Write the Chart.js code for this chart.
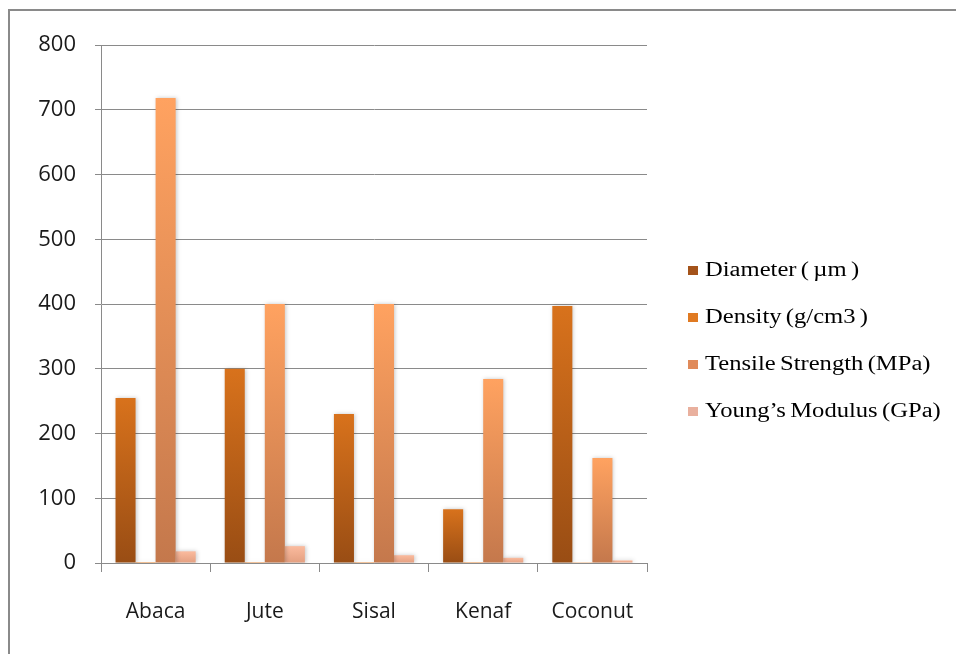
<!DOCTYPE html>
<html>
<head>
<meta charset="utf-8">
<script src="https://cdn.jsdelivr.net/npm/chart.js@4.4.1/dist/chart.umd.min.js"></script>
<style>
  html, body { margin: 0; padding: 0; background: #ffffff; }
  #wrap { position: relative; width: 956px; height: 654px; overflow: hidden; }
  #frame { position: absolute; left: 8px; top: 9px; width: 960px; height: 660px;
           border-top: 2px solid #8a8a8a; border-left: 2px solid #8a8a8a; box-sizing: border-box; }
  canvas { position: absolute; left: 0; top: 0; }
  #legend { position: absolute; left: 688px; top: 257px; font-family: "Liberation Serif", "Times New Roman", serif;
            font-size: 20px; color: #000; }
  .item { position: absolute; left: 0; height: 24px; white-space: nowrap; }
  .swatch { position: absolute; left: 0; top: 9px; width: 10px; height: 9px; }
  .label { position: absolute; left: 17px; top: 0; line-height: 24px; transform: scaleX(1.23); transform-origin: left center; word-spacing: -1.5px; }
</style>
</head>
<body>
<div id="wrap">
  <canvas id="chart" width="956" height="654"></canvas>
  <div id="frame"></div>
  <div id="legend"></div>
</div>
<script>
// Fibre types along the x axis
const categories = ["Abaca", "Jute", "Sisal", "Kenaf", "Coconut"];

// Properties of each fibre
const diameter = [255, 300, 230, 83, 397];       // µm
const density = [1.5, 1.46, 1.45, 1.45, 1.2];    // g/cm3
const tensileStrength = [718, 400, 400, 284, 162]; // MPa
const youngsModulus = [18, 26, 12, 8, 4];        // GPa

const seriesNames = ["Diameter ( µm )", "Density (g/cm3 )", "Tensile Strength (MPa)", "Young’s Modulus (GPa)"];

// Value axis ticks
const yTicks = [0, 100, 200, 300, 400, 500, 600, 700, 800];

// Top / bottom shade of each series' bars, and its legend swatch
const shades = [
  { top: "#d8721c", bottom: "#994d14", swatch: "#a4531a" },
  { top: "#e67d22", bottom: "#b35d18", swatch: "#e07a22" },
  { top: "#ffa260", bottom: "#c4784c", swatch: "#e08a5a" },
  { top: "#fbbb9e", bottom: "#e39f80", swatch: "#e9b09e" }
];

function gradientFill(i) {
  return (ctx) => {
    const chart = ctx.chart;
    if (ctx.type !== "data" || !chart.chartArea || !chart.scales.y) return shades[i].swatch;
    const y = chart.scales.y;
    const top = y.getPixelForValue(ctx.raw);
    const base = y.getPixelForValue(0);
    if (!isFinite(top) || base - top < 1) return shades[i].top;
    const g = chart.ctx.createLinearGradient(0, top, 0, base);
    g.addColorStop(0, shades[i].top);
    g.addColorStop(1, shades[i].bottom);
    return g;
  };
}

const seriesValues = [diameter, density, tensileStrength, youngsModulus];

// Soft drop shadow behind the bars
const barShadow = {
  id: "barShadow",
  beforeDatasetsDraw(chart) {
    const c = chart.ctx;
    c.save();
    c.shadowColor = "rgba(0,0,0,0.22)";
    c.shadowBlur = 4;
    c.shadowOffsetX = 1;
    c.shadowOffsetY = 0;
  },
  afterDatasetsDraw(chart) {
    chart.ctx.restore();
  }
};

const chart = new Chart(document.getElementById("chart"), {
  type: "bar",
  data: {
    labels: categories,
    datasets: seriesValues.map((vals, i) => ({
      label: seriesNames[i],
      data: vals,
      backgroundColor: gradientFill(i),
      borderWidth: 0,
      categoryPercentage: 0.734,
      barPercentage: 1.0
    }))
  },
  options: {
    responsive: false,
    animation: false,
    layout: { padding: { left: 0, right: 309, top: 45, bottom: 0 } },
    plugins: {
      legend: { display: false },
      tooltip: { enabled: false }
    },
    scales: {
      x: {
        afterFit(scale) { scale.height = 91; },
        grid: {
          offset: true,
          drawOnChartArea: false,
          drawTicks: true,
          tickLength: 9,
          color: "#8a8a8a",
          lineWidth: 1
        },
        border: { color: "#8a8a8a", width: 1 },
        ticks: {
          color: "#1a1a1a",
          padding: 27,
          font: { family: "'Open Sans', sans-serif", size: 21 }
        }
      },
      y: {
        min: 0,
        max: 800,
        afterFit(scale) { scale.width = 101; },
        afterBuildTicks(scale) { scale.ticks = yTicks.map(v => ({ value: v })); },
        grid: {
          color: "#8a8a8a",
          lineWidth: 1,
          tickLength: 6
        },
        border: { color: "#8a8a8a", width: 1 },
        ticks: {
          color: "#1a1a1a",
          padding: 19,
          font: { family: "'Open Sans', sans-serif", size: 22 }
        }
      }
    }
  },
  plugins: [barShadow]
});

// Legend built from the chart's datasets
const legend = document.getElementById("legend");
chart.data.datasets.forEach((ds, i) => {
  const item = document.createElement("div");
  item.className = "item";
  item.style.top = (i * 47) + "px";
  const sw = document.createElement("span");
  sw.className = "swatch";
  sw.style.background = shades[i].swatch;
  const lab = document.createElement("span");
  lab.className = "label";
  lab.textContent = ds.label;
  item.appendChild(sw);
  item.appendChild(lab);
  legend.appendChild(item);
});
</script>
</body>
</html>
